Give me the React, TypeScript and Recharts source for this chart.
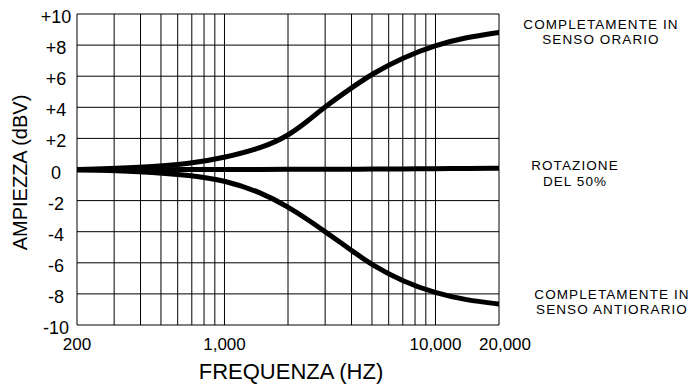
import React from "react";
import { LineChart, Line, XAxis, YAxis, ReferenceLine } from "recharts";

const freqs = [200, 400, 700, 1000, 1500, 2000, 2500, 3000, 4000, 5000, 7000, 10000, 14000, 20000];
const clockwise = [0, 0.12, 0.38, 0.76, 1.38, 2.15, 3.15, 4.05, 5.25, 6.15, 7.2, 8.0, 8.5, 8.82];
const halfway = [-0.03, -0.02, 0, 0, 0, 0.01, 0.01, 0.02, 0.02, 0.03, 0.04, 0.05, 0.07, 0.08];
const counterClockwise = [0, -0.12, -0.37, -0.7, -1.48, -2.4, -3.25, -4.0, -5.2, -6.15, -7.2, -7.95, -8.4, -8.65];

const xTicks = [200, 1000, 10000, 20000];
const yTicks = [-10, -8, -6, -4, -2, 0, 2, 4, 6, 8, 10];
const xGrid = [200, 300, 400, 500, 600, 700, 800, 900, 1000, 2000, 3000, 4000, 5000, 6000, 7000, 8000, 9000, 10000, 20000];

const data = freqs.map((f, i) => ({
  freq: f,
  cw: clockwise[i],
  half: halfway[i],
  ccw: counterClockwise[i],
}));

const FONT = "'Liberation Sans', Arial, Helvetica, sans-serif";

const fmtX = (v: number) => v.toLocaleString("en-US");
const fmtY = (v: number) => (v > 0 ? `+${v}` : `${v}`);

const XTick = (props: any) => {
  const { x, y, payload } = props;
  const shift = payload.value === 20000 ? 6 : 0;
  return (
    <text x={x + shift} y={y + 25} textAnchor="middle" fontSize={17} fontFamily={FONT} fill="#000">
      {fmtX(payload.value)}
    </text>
  );
};

const YTick = (props: any) => {
  const { x, y, payload } = props;
  return (
    <text x={x - 21} y={y + 9} textAnchor="middle" fontSize={18} fontFamily={FONT} fill="#000">
      {fmtY(payload.value)}
    </text>
  );
};

const annStyle = { fontSize: 13.5, fontFamily: FONT, fill: "#000", letterSpacing: 1.1 } as const;

export default function App() {
  return (
    <div style={{ width: 693, height: 385, background: "#fff" }}>
      <style>{`body{margin:0;}`}</style>
      <LineChart width={693} height={385} data={data} margin={{ top: 14, right: 194, bottom: 0, left: 0 }}>
        <XAxis
          dataKey="freq"
          type="number"
          scale="log"
          domain={[200, 20000]}
          ticks={xTicks}
          allowDataOverflow
          axisLine={false}
          tickLine={false}
          tickSize={0}
          tickMargin={0}
          height={60}
          tick={<XTick />}
          interval={0}
        />
        <YAxis
          type="number"
          domain={[-10, 10]}
          ticks={yTicks}
          axisLine={false}
          tickLine={false}
          tickSize={0}
          tickMargin={0}
          width={77}
          tick={<YTick />}
          interval={0}
        />
        {yTicks.map((v) => (
          <ReferenceLine key={`h${v}`} y={v} stroke="#000" strokeWidth={1} />
        ))}
        {xGrid.map((f) => (
          <ReferenceLine key={`v${f}`} x={f} stroke="#000" strokeWidth={1} />
        ))}
        <Line dataKey="cw" type="basis" stroke="#000" strokeWidth={5} strokeLinecap="round" dot={false} isAnimationActive={false} />
        <Line dataKey="half" type="basis" stroke="#000" strokeWidth={5} strokeLinecap="round" dot={false} isAnimationActive={false} />
        <Line dataKey="ccw" type="basis" stroke="#000" strokeWidth={5} strokeLinecap="round" dot={false} isAnimationActive={false} />

        <text x={27} y={172.5} transform="rotate(-90 27 172.5)" textAnchor="middle" fontSize={20} fontFamily={FONT} fill="#000">
          AMPIEZZA (dBV)
        </text>
        <text x={291} y={379} textAnchor="middle" fontSize={22} fontFamily={FONT} fill="#000">
          FREQUENZA (HZ)
        </text>

        <text x={601} y={29} textAnchor="middle" {...annStyle}>COMPLETAMENTE IN</text>
        <text x={601} y={44} textAnchor="middle" {...annStyle}>SENSO ORARIO</text>

        <text x={575} y={170} textAnchor="middle" {...annStyle}>ROTAZIONE</text>
        <text x={575} y={185.7} textAnchor="middle" {...annStyle}>DEL 50%</text>

        <text x={612} y={299} textAnchor="middle" {...annStyle}>COMPLETAMENTE IN</text>
        <text x={612} y={314} textAnchor="middle" {...annStyle}>SENSO ANTIORARIO</text>
      </LineChart>
    </div>
  );
}
